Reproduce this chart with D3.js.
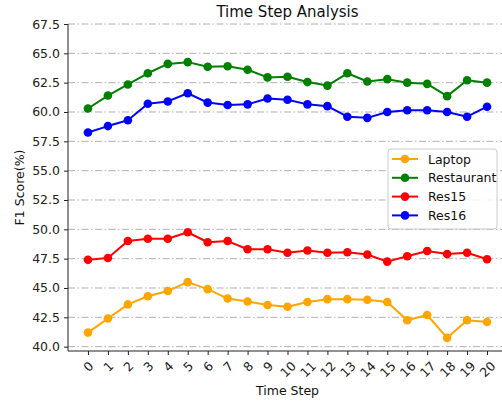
<!DOCTYPE html>
<html>
<head>
<meta charset="utf-8">
<script src="https://cdn.jsdelivr.net/npm/d3@7"></script>
<style>
  html, body { margin: 0; padding: 0; background: #fff; }
  svg { display: block; font-family: "DejaVu Sans", sans-serif; }
</style>
</head>
<body>
<svg id="chart" width="502" height="403"></svg>
<script>
const timeSteps = d3.range(0, 21);
const laptop     = [41.2, 42.4, 43.6, 44.3, 44.75, 45.5, 44.9, 44.1, 43.85, 43.55, 43.4, 43.8, 44.05, 44.05, 44.0, 43.8, 42.25, 42.7, 40.75, 42.25, 42.1];
const restaurant = [60.3, 61.4, 62.35, 63.3, 64.1, 64.25, 63.85, 63.9, 63.6, 62.95, 63.0, 62.55, 62.25, 63.3, 62.6, 62.8, 62.5, 62.4, 61.35, 62.7, 62.5];
const res15      = [47.4, 47.55, 49.0, 49.2, 49.2, 49.75, 48.9, 49.0, 48.3, 48.3, 48.0, 48.2, 48.0, 48.05, 47.85, 47.25, 47.7, 48.15, 47.9, 48.0, 47.45];
const res16      = [58.25, 58.8, 59.3, 60.7, 60.9, 61.6, 60.8, 60.6, 60.65, 61.15, 61.05, 60.65, 60.5, 59.6, 59.5, 60.0, 60.15, 60.15, 60.0, 59.6, 60.45];
const seriesNames  = ["Laptop", "Restaurant", "Res15", "Res16"];
const seriesColors = ["orange", "green", "red", "blue"];
const yTicks = d3.range(40, 67.51, 2.5);
const titleText = "Time Step Analysis";
const xLabelText = "Time Step";
const yLabelText = "F1 Score(%)";

(function () {
  const series = [laptop, restaurant, res15, res16].map((vals, i) => ({
    name: seriesNames[i], color: seriesColors[i],
    points: vals.map((v, j) => ({ x: timeSteps[j], y: v }))
  }));

  const svg = d3.select("#chart");
  const pL = 68, pR = 507, pT = 24, pB = 351;
  const fs = 12.5;

  const x = d3.scaleLinear().domain([-1, 21]).range([pL, pR]);
  const y = d3.scaleLinear().domain([39.63, 67.5]).range([pB, pT]);

  // grid
  svg.append("g").selectAll("line").data(yTicks).join("line")
    .attr("x1", pL).attr("x2", pR)
    .attr("y1", d => y(d)).attr("y2", d => y(d))
    .attr("stroke", "#b0b0b0").attr("stroke-width", 1)
    .attr("stroke-dasharray", "7,2.5,1.5,2.5");

  // y axis
  const yAxis = d3.axisLeft(y).tickValues(yTicks).tickFormat(d3.format(".1f"))
    .tickSize(4).tickPadding(4);
  const gy = svg.append("g").attr("transform", `translate(${pL},0)`).call(yAxis);
  gy.select(".domain").attr("d", `M0,${pT}V${pB}`).attr("stroke", "#222").attr("stroke-width", 1);
  gy.selectAll(".tick line").attr("stroke", "#222");
  gy.selectAll(".tick text").attr("font-size", fs).attr("font-family", "DejaVu Sans").attr("fill", "#222");

  // x axis
  const xAxis = d3.axisBottom(x).tickValues(timeSteps).tickFormat(d3.format("d"))
    .tickSize(4).tickPadding(4);
  const gx = svg.append("g").attr("transform", `translate(0,${pB})`).call(xAxis);
  gx.select(".domain").attr("d", `M${pL},0H${pR}`).attr("stroke", "#222").attr("stroke-width", 1);
  gx.selectAll(".tick line").attr("stroke", "#222");
  gx.selectAll(".tick text")
    .attr("font-size", fs).attr("font-family", "DejaVu Sans").attr("fill", "#222")
    .attr("dy", null).attr("y", null)
    .attr("text-anchor", "middle").attr("dominant-baseline", "central")
    .each(function () {
      const w = this.getComputedTextLength();
      const h = fs * 1.05;
      const half = (w + h) / (2 * Math.SQRT2);
      const cy = 4 + 4 + half;
      d3.select(this).attr("transform", `translate(0,${cy}) rotate(-45)`);
    });

  // lines and markers
  const line = d3.line().x(d => x(d.x)).y(d => y(d.y));
  series.forEach(s => {
    const g = svg.append("g");
    g.append("path").datum(s.points).attr("d", line)
      .attr("fill", "none").attr("stroke", s.color).attr("stroke-width", 2)
      .attr("stroke-linejoin", "round");
    g.selectAll("circle").data(s.points).join("circle")
      .attr("cx", d => x(d.x)).attr("cy", d => y(d.y)).attr("r", 4.3)
      .attr("fill", s.color);
  });

  // title and labels
  svg.append("text").attr("x", (pL + pR) / 2).attr("y", 17)
    .attr("text-anchor", "middle").attr("font-size", 15).attr("fill", "#111").text(titleText);
  svg.append("text").attr("x", (pL + pR) / 2).attr("y", 395)
    .attr("text-anchor", "middle").attr("font-size", fs).attr("fill", "#111").text(xLabelText);
  svg.append("text").attr("transform", `translate(24,${(pT + pB) / 2}) rotate(-90)`)
    .attr("text-anchor", "middle").attr("font-size", fs).attr("fill", "#111").text(yLabelText);

  // legend
  const lg = svg.append("g").attr("transform", "translate(388,149)");
  lg.append("rect").attr("x", 0).attr("y", 0).attr("width", 109).attr("height", 80)
    .attr("rx", 3).attr("fill", "white").attr("fill-opacity", 0.85)
    .attr("stroke", "#cccccc").attr("stroke-width", 1);
  series.forEach((s, i) => {
    const cy = 10 + i * 18.8;
    lg.append("line").attr("x1", 4).attr("x2", 30).attr("y1", cy).attr("y2", cy)
      .attr("stroke", s.color).attr("stroke-width", 2);
    lg.append("circle").attr("cx", 17).attr("cy", cy).attr("r", 4.3).attr("fill", s.color);
    lg.append("text").attr("x", 40).attr("y", cy).attr("dominant-baseline", "central")
      .attr("font-size", fs).attr("fill", "#111").text(s.name);
  });
})();
</script>
</body>
</html>
